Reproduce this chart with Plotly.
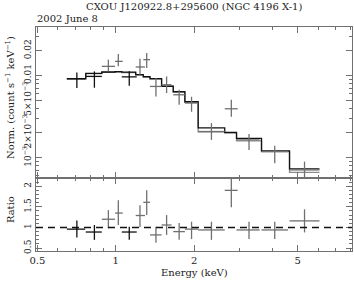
import math
import plotly.graph_objects as go
from plotly.subplots import make_subplots

# ---------------- data ----------------
energy = [0.709, 0.828, 0.937, 1.023, 1.127, 1.239, 1.315, 1.427, 1.568, 1.752,
          1.955, 2.331, 2.779, 3.25, 4.08, 5.31]
energy_lo = [0.649, 0.767, 0.884, 0.994, 1.055, 1.193, 1.276, 1.354, 1.50, 1.663,
             1.843, 2.073, 2.622, 2.91, 3.63, 4.65]
energy_hi = [0.763, 0.884, 0.994, 1.064, 1.204, 1.295, 1.354, 1.50, 1.638, 1.843,
             2.073, 2.622, 2.94, 3.57, 4.59, 6.06]
flux = [0.00912, 0.00972, 0.01288, 0.01482, 0.0096, 0.01266, 0.01554, 0.00734, 0.0077,
        0.00581, 0.00461, 0.002075, 0.003926, 0.001643, 0.001183, 0.000708]
flux_hi = [0.01088, 0.01119, 0.01554, 0.01824, 0.01125, 0.01598, 0.01876, 0.0093, 0.00972,
           0.00669, 0.0055, 0.002627, 0.00505, 0.00193, 0.00139, 0.000894]
flux_lo = [0.00702, 0.00708, 0.01119, 0.01288, 0.00749, 0.0102, 0.01231, 0.00554, 0.0061,
           0.00439, 0.00361, 0.001643, 0.00313, 0.00124, 0.000855, 0.000565]
model_a = [0.00912, 0.01058, 0.0110, 0.01109, 0.01094, 0.0102, 0.00964, 0.00912, 0.00738,
           0.00633, 0.00478, 0.002303, 0.00203, 0.001715, 0.001208, 0.000728]
model_b = [0.0090, 0.01052, 0.0109, 0.0110, 0.0108, 0.0101, 0.0095, 0.0090, 0.0074,
           0.0062, 0.0047, 0.00205, 0.00198, 0.00160, 0.00118, 0.00066]
ratio = [0.96, 0.89, 1.20, 1.35, 0.89, 1.29, 1.61, 0.82, 1.06, 0.90, 0.96, 0.94, 1.90,
         0.94, 0.94, 1.16]
ratio_hi = [1.17, 1.06, 1.42, 1.66, 1.02, 1.54, 1.90, 1.02, 1.30, 1.11, 1.14, 1.14, 2.18,
            1.14, 1.14, 1.44]
ratio_lo = [0.76, 0.70, 0.98, 1.06, 0.70, 1.01, 1.30, 0.63, 0.82, 0.70, 0.72, 0.70, 1.49,
            0.72, 0.72, 0.88]
dark_points = [0, 1, 4]

x_ticks = [0.5, 1, 2, 5]
x_ticktext = ["0.5", "1", "2", "5"]
x_minor = [0.6, 0.7, 0.8, 0.9, 3, 4, 6, 7, 8]
y_ticks = [0.001, 0.002, 0.005, 0.01, 0.02]
y_ticktext = ["10<sup>−3</sup>", "2×10<sup>−3</sup>", "5×10<sup>−3</sup>", "0.01", "0.02"]
y_minor = [0.0006, 0.0007, 0.0008, 0.0009, 0.003, 0.004, 0.006, 0.007, 0.008, 0.009,
           0.03]
r_ticks = [0.5, 1, 1.5, 2]
r_ticktext = ["0.5", "1", "1.5", "2"]

title = "CXOU J120922.8+295600 (NGC 4196 X-1)"
subtitle = "2002 June 8"
x_title = "Energy (keV)"
y_title = "Norm. (count s<sup>−1</sup> keV<sup>−1</sup>)"
r_title = "Ratio"

# ---------------- figure ----------------
FONT = "DejaVu Serif"
AX = "#707070"
TXT = "#222222"

fig = make_subplots(rows=2, cols=1, shared_xaxes=True, vertical_spacing=0,
                    row_heights=[0.674, 0.326])

# model step lines
edges = energy_lo + [energy_hi[-1]]
for vals, col in [(model_b, "#8a8a8a"), (model_a, "#111111")]:
    fig.add_trace(go.Scatter(x=edges, y=vals + [vals[-1]], mode="lines",
                             line=dict(shape="hv", color=col, width=1.3),
                             hoverinfo="skip", showlegend=False), row=1, col=1)

groups = [([i for i in range(len(energy)) if i in dark_points], "#111111"),
          ([i for i in range(len(energy)) if i not in dark_points], "#707070")]
for idx, col in groups:
    xs = [energy[i] for i in idx]
    ex_p = [energy_hi[i] - energy[i] for i in idx]
    ex_m = [energy[i] - energy_lo[i] for i in idx]
    ys = [flux[i] for i in idx]
    ey_p = [flux_hi[i] - flux[i] for i in idx]
    ey_m = [flux[i] - flux_lo[i] for i in idx]
    fig.add_trace(go.Scatter(
        x=xs, y=ys, mode="markers", marker=dict(size=1, color=col),
        error_x=dict(type="data", array=ex_p, arrayminus=ex_m, width=0, color=col, thickness=1.3),
        error_y=dict(type="data", array=ey_p, arrayminus=ey_m, width=0, color=col, thickness=1.3),
        showlegend=False), row=1, col=1)
    rs = [ratio[i] for i in idx]
    er_p = [ratio_hi[i] - ratio[i] for i in idx]
    er_m = [ratio[i] - ratio_lo[i] for i in idx]
    fig.add_trace(go.Scatter(
        x=xs, y=rs, mode="markers", marker=dict(size=1, color=col),
        error_x=dict(type="data", array=ex_p, arrayminus=ex_m, width=0, color=col, thickness=1.3),
        error_y=dict(type="data", array=er_p, arrayminus=er_m, width=0, color=col, thickness=1.3),
        showlegend=False), row=2, col=1)

fig.add_hline(y=1, line=dict(color="#111111", width=1.3, dash="7px,5px"), row=2, col=1)

xrange = [math.log10(0.494), math.log10(8.08)]
common = dict(showline=True, linecolor=AX, linewidth=1.3, mirror="ticks", ticks="inside",
              tickcolor=AX, tickwidth=1, showgrid=False, zeroline=False, automargin=False)

fig.update_xaxes(type="log", range=xrange, tickvals=x_ticks, ticktext=x_ticktext, ticklen=6,
                 minor=dict(tickvals=x_minor, ticks="inside", ticklen=3, tickcolor=AX),
                 tickfont=dict(family=FONT, size=10, color=TXT), **common)
fig.update_xaxes(showticklabels=False, row=1, col=1)

fig.update_yaxes(type="log", range=[math.log10(0.000565), math.log10(0.0388)],
                 tickvals=y_ticks, ticktext=y_ticktext, tickangle=-90, ticklen=6,
                 tickfont=dict(family=FONT, size=9, color=TXT),
                 minor=dict(tickvals=y_minor, ticks="inside", ticklen=3, tickcolor=AX),
                 row=1, col=1, **common)
fig.update_yaxes(range=[0.43, 2.2], tickvals=r_ticks, ticktext=r_ticktext, tickangle=-90,
                 ticklen=6, tickfont=dict(family=FONT, size=9, color=TXT),
                 minor=dict(dtick=0.1, tick0=0, ticks="inside", ticklen=3, tickcolor=AX),
                 row=2, col=1, **common)

tf = dict(family=FONT, size=10, color=TXT)
fig.add_annotation(text=title, xref="paper", yref="paper", x=0.5, y=1.091,
                   showarrow=False, font=tf, xanchor="center", yanchor="middle")
fig.add_annotation(text=subtitle, xref="paper", yref="paper", x=-0.003, y=1.038,
                   showarrow=False, font=tf, xanchor="left", yanchor="middle")
fig.add_annotation(text=x_title, xref="paper", yref="paper", x=0.5, y=-0.098,
                   showarrow=False, font=tf, xanchor="center", yanchor="middle")
fig.add_annotation(text=y_title, xref="paper", yref="paper", x=-0.082, y=0.683,
                   showarrow=False, font=tf, textangle=-90, xanchor="center", yanchor="middle")
fig.add_annotation(text=r_title, xref="paper", yref="paper", x=-0.082, y=0.183,
                   showarrow=False, font=tf, textangle=-90, xanchor="center", yanchor="middle")

fig.update_layout(width=354, height=281, margin=dict(l=36, r=2, t=27, b=30),
                  paper_bgcolor="white", plot_bgcolor="white", showlegend=False)

fig.write_html("out.html", config={"displayModeBar": False},
               post_script="document.body.style.margin='0';document.body.style.overflow='hidden';")
